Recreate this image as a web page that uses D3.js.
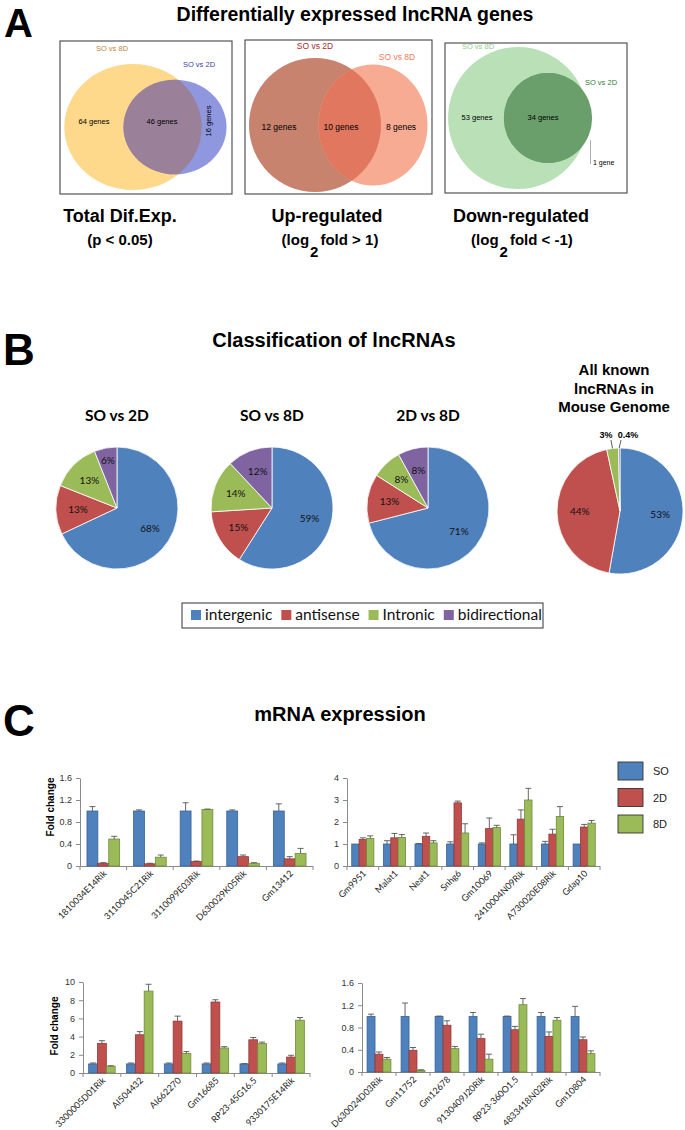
<!DOCTYPE html>
<html><head><meta charset="utf-8">
<script src="https://cdn.jsdelivr.net/npm/d3@7"></script>
<style>body{margin:0;background:#fff}svg{display:block}</style>
</head><body>
<svg id="c" width="685" height="1130"></svg>
<script>
// ---------------- DATA ----------------
const titleA = "Differentially expressed lncRNA genes";
const titleB = "Classification of lncRNAs";
const titleC = "mRNA expression";

const vennSetNames1 = ["SO vs 8D", "SO vs 2D"];
const vennSetSizes1 = [110, 62];
const vennRegions1 = ["64 genes", "46 genes", "16 genes"];
const vennSetNames2 = ["SO vs 2D", "SO vs 8D"];
const vennSetSizes2 = [22, 18];
const vennRegions2 = ["12 genes", "10 genes", "8 genes"];
const vennSetNames3 = ["SO vs 8D", "SO vs 2D"];
const vennSetSizes3 = [87, 35];
const vennRegions3 = ["53 genes", "34 genes", "1 gene"];
const vennCaptions = ["Total Dif.Exp.", "Up-regulated", "Down-regulated"];

const pieCategories = ["intergenic", "antisense", "Intronic", "bidirectional"];
const pieTitles = ["SO vs 2D", "SO vs 8D", "2D vs 8D"];
const pieSO2D = [68, 13, 13, 6];
const pieSO8D = [59, 15, 14, 12];
const pie2D8D = [71, 13, 8, 8];
const pieGenome = [53, 44, 3, 0.4];
const pieGenomeLabels = ["53%", "44%", "3%", "0.4%"];
const pieGenomeTitle = ["All known", "lncRNAs in", "Mouse Genome"];

const seriesNames = ["SO", "2D", "8D"];

const genes1 = ["1810034E14Rik", "3110045C21Rik", "3110099E03Rik", "D630029K05Rik", "Gm13412"];
const so1 = [1, 1, 1, 1, 1];
const d2_1 = [0.05, 0.04, 0.08, 0.17, 0.13];
const d8_1 = [0.49, 0.16, 1.03, 0.05, 0.23];
const eSo1 = [0.08, 0.02, 0.15, 0.02, 0.13];
const eD2_1 = [0.01, 0.01, 0.01, 0.03, 0.04];
const eD8_1 = [0.05, 0.04, 0.005, 0.01, 0.09];
const ticks1 = [0, 0.4, 0.8, 1.2, 1.6];

const genes2 = ["Gm9951", "Malat1", "Neat1", "Snhg6", "Gm10069", "2410004N09Rik", "A730020E08Rik", "Gdap10"];
const so2 = [1, 1, 1, 1, 1, 1, 1, 1];
const d2_2 = [1.2, 1.28, 1.35, 2.87, 1.7, 2.13, 1.45, 1.77];
const d8_2 = [1.25, 1.3, 1.05, 1.5, 1.75, 3.0, 2.25, 1.95];
const eSo2 = [0, 0.15, 0.02, 0.1, 0.05, 0.42, 0.12, 0];
const eD2_2 = [0.08, 0.2, 0.15, 0.08, 0.48, 0.42, 0.22, 0.12];
const eD8_2 = [0.12, 0.13, 0.1, 0.42, 0.1, 0.53, 0.45, 0.12];
const ticks2 = [0, 1, 2, 3, 4];

const genes3 = ["3300005D01Rik", "AI504432", "AI662270", "Gm16685", "RP23-45G16.5", "9330175E14Rik"];
const so3 = [1, 1, 1, 1, 1, 1];
const d2_3 = [3.25, 4.2, 5.7, 7.8, 3.65, 1.75];
const d8_3 = [0.75, 9.0, 2.15, 2.75, 3.25, 5.8];
const eSo3 = [0.1, 0.1, 0.1, 0.1, 0.03, 0.1];
const eD2_3 = [0.3, 0.35, 0.55, 0.25, 0.25, 0.2];
const eD8_3 = [0.05, 0.75, 0.2, 0.15, 0.15, 0.3];
const ticks3 = [0, 2, 4, 6, 8, 10];

const genes4 = ["D630024D03Rik", "Gm11752", "Gm12678", "9130409J20Rik", "RP23-360O1.5", "4833418N02Rik", "Gm10804"];
const so4 = [1, 1, 1, 1, 1, 1, 1];
const d2_4 = [0.32, 0.39, 0.84, 0.6, 0.76, 0.64, 0.58];
const d8_4 = [0.23, 0.03, 0.42, 0.23, 1.21, 0.93, 0.33];
const eSo4 = [0.04, 0.24, 0.005, 0.07, 0.005, 0.07, 0.18];
const eD2_4 = [0.04, 0.05, 0.08, 0.08, 0.06, 0.08, 0.05];
const eD8_4 = [0.03, 0.01, 0.04, 0.09, 0.11, 0.05, 0.05];
const ticks4 = [0, 0.4, 0.8, 1.2, 1.6];

// ---------------- STYLE ----------------
const ARIAL = "'Liberation Sans', Arial, sans-serif";
const CAL = "Lato, 'Open Sans', sans-serif";
const pieColors = ["#4f81bd", "#c0504d", "#9bbb59", "#8064a2"];
const barFill = ["#4f81bd", "#c0504d", "#9bbb59"];
const barStroke = ["#3a6296", "#8e3a38", "#6f8a3c"];

const svg = d3.select("#c");

function txt(x, y, s, size, opts = {}) {
  return svg.append("text").attr("x", x).attr("y", y).text(s)
    .attr("font-family", opts.family || ARIAL).attr("font-size", size)
    .attr("font-weight", opts.weight || "normal")
    .attr("text-anchor", opts.anchor || "start")
    .attr("fill", opts.fill || "#000");
}

// ---------------- PANEL A ----------------
txt(4, 37, "A", 40, {weight: "bold"});
txt(355, 21, titleA, 19.5, {weight: "bold", anchor: "middle"});

function venn(cfg) {
  const g = svg.append("g");
  const r = d3.scaleSqrt().domain([0, d3.max(cfg.sizes)]).range([0, cfg.rmax]);
  const ells = cfg.sizes.map((s, i) => ({cx: cfg.cx[i], cy: cfg.cy, ry: r(s), rx: r(s) * cfg.aspect[i]}));
  const id = "clip" + cfg.id;
  g.append("clipPath").attr("id", id).append("ellipse")
    .attr("cx", ells[0].cx).attr("cy", ells[0].cy).attr("rx", ells[0].rx).attr("ry", ells[0].ry);
  g.selectAll("ellipse.s").data(ells).join("ellipse").attr("class", "s")
    .attr("cx", d => d.cx).attr("cy", d => d.cy).attr("rx", d => d.rx).attr("ry", d => d.ry)
    .attr("fill", (d, i) => cfg.colors[i]);
  g.append("ellipse").attr("clip-path", `url(#${id})`)
    .attr("cx", ells[1].cx).attr("cy", ells[1].cy).attr("rx", ells[1].rx).attr("ry", ells[1].ry)
    .attr("fill", cfg.overlap);
  g.append("rect").attr("x", cfg.box[0]).attr("y", cfg.box[1]).attr("width", cfg.box[2] - cfg.box[0])
    .attr("height", cfg.box[3] - cfg.box[1]).attr("fill", "none").attr("stroke", "#444").attr("stroke-width", 1.1);
  cfg.names.forEach((n, i) => txt(cfg.namePos[i][0], cfg.namePos[i][1], n, cfg.fs, {anchor: "middle", fill: cfg.nameColors[i]}));
  return g;
}

venn({id: 1, box: [60, 41, 232, 194], sizes: vennSetSizes1, rmax: 63, aspect: [1.09, 1.09],
  cx: [133, 175], cy: 127, colors: ["#fed98b", "#8f97de"], overlap: "#9a8199",
  names: vennSetNames1, namePos: [[112, 51], [199, 67]], nameColors: ["#c08442", "#3a3fa6"], fs: 7.5});
txt(94, 124, vennRegions1[0], 7.5, {anchor: "middle"});
txt(162, 124, vennRegions1[1], 7.5, {anchor: "middle"});
txt(0, 0, vennRegions1[2], 7.5, {anchor: "middle"}).attr("transform", "translate(211,121) rotate(-90)");

venn({id: 2, box: [245, 40, 432, 194], sizes: vennSetSizes2, rmax: 67, aspect: [0.985, 0.9],
  cx: [315, 373], cy: 125, colors: ["#c8836f", "#f7ab93"], overlap: "#e0775e",
  names: vennSetNames2, namePos: [[315, 49], [397, 60]], nameColors: ["#a52a2a", "#f27b5b"], fs: 8.5});
txt(279, 130, vennRegions2[0], 8.5, {anchor: "middle"});
txt(341, 130, vennRegions2[1], 8.5, {anchor: "middle"});
txt(401, 130, vennRegions2[2], 8.5, {anchor: "middle"});

venn({id: 3, box: [445, 43, 627, 193], sizes: vennSetSizes3, rmax: 71, aspect: [0.985, 0.98],
  cx: [518, 548], cy: 118, colors: ["#b9e0b6", "#6a9e6a"], overlap: "#6a9e6a",
  names: vennSetNames3, namePos: [[478, 49], [601, 85]], nameColors: ["#8fd08a", "#2f7d3e"], fs: 7.5});
txt(477, 120, vennRegions3[0], 7.5, {anchor: "middle"});
txt(543, 120, vennRegions3[1], 7.5, {anchor: "middle"});
svg.append("line").attr("x1", 590.5).attr("x2", 590.5).attr("y1", 140).attr("y2", 164).attr("stroke", "#999").attr("stroke-width", 0.8);
txt(593, 165, vennRegions3[2], 7, {});

const capX = [120, 327, 521];
vennCaptions.forEach((c, i) => txt(capX[i], 222, c, 18, {weight: "bold", anchor: "middle"}));
txt(capX[0], 245, "(p < 0.05)", 15, {weight: "bold", anchor: "middle"});
function logCap(x, rest) {
  const t = txt(x, 245, "", 15, {weight: "bold", anchor: "middle"});
  t.append("tspan").text("(log");
  t.append("tspan").attr("dy", 12).attr("dx", 1).text("2");
  t.append("tspan").attr("dy", -12).attr("dx", 2).text(rest);
}
logCap(330, "fold > 1)");
logCap(522, "fold < -1)");

// ---------------- PANEL B ----------------
txt(3, 365, "B", 44, {weight: "bold"});
txt(334, 347, titleB, 20, {weight: "bold", anchor: "middle"});

const pieGen = d3.pie().sort(null).value(d => d);
function drawPie(vals, labels, cx, cy, r, outsideIdx) {
  const g = svg.append("g").attr("transform", `translate(${cx},${cy})`);
  const arcs = pieGen(vals);
  const arc = d3.arc().innerRadius(0).outerRadius(r);
  g.selectAll("path").data(arcs).join("path").attr("d", arc)
    .attr("fill", (d, i) => pieColors[i]).attr("stroke", "#fff").attr("stroke-width", 0.8);
  arcs.forEach((a, i) => {
    if (outsideIdx && outsideIdx.includes(i)) return;
    const span = a.endAngle - a.startAngle;
    const lr = span < 0.5 ? r * 0.8 : r * 0.64;
    const c = d3.arc().innerRadius(lr).outerRadius(lr).centroid(a);
    g.append("text").attr("x", c[0]).attr("y", c[1] + 3.5).text(labels[i])
      .attr("font-family", CAL).attr("font-size", 10).attr("text-anchor", "middle").attr("fill", "#111");
  });
  return {g, arcs};
}
const pieCX = [117, 272, 428];
[pieSO2D, pieSO8D, pie2D8D].forEach((vals, i) => {
  txt(pieCX[i], 421, pieTitles[i], 15.5, {family: CAL, weight: "bold", anchor: "middle"});
  drawPie(vals, vals.map(v => v + "%"), pieCX[i], 508, 61);
});
pieGenomeTitle.forEach((s, i) => txt(614, 375 + i * 18.5, s, 15, {weight: "bold", anchor: "middle"}));
const gp = drawPie(pieGenome, pieGenomeLabels, 620, 511, 63, [2, 3]);
[2, 3].forEach((i, k) => {
  const a = gp.arcs[i];
  const m = (a.startAngle + a.endAngle) / 2;
  const px = Math.sin(m) * 63, py = -Math.cos(m) * 63;
  const lx = k === 0 ? -12 : 1;
  gp.g.append("line").attr("x1", px).attr("y1", py).attr("x2", lx + (k === 0 ? 3 : 0)).attr("y2", -71)
    .attr("stroke", "#333").attr("stroke-width", 0.8);
  gp.g.append("text").attr("x", k === 0 ? -14 : 8).attr("y", -73).text(pieGenomeLabels[i])
    .attr("font-family", ARIAL).attr("font-size", 9).attr("font-weight", "bold").attr("text-anchor", "middle");
});

// legend
const lg = svg.append("g");
lg.append("rect").attr("x", 182).attr("y", 603).attr("width", 361).attr("height", 25)
  .attr("fill", "#fff").attr("stroke", "#333").attr("stroke-width", 1);
let lx = 191;
pieCategories.forEach((c, i) => {
  lg.append("rect").attr("x", lx).attr("y", 610).attr("width", 10).attr("height", 10).attr("fill", pieColors[i]);
  const t = lg.append("text").attr("x", lx + 14).attr("y", 620).text(c)
    .attr("font-family", CAL).attr("font-size", 15.5).attr("fill", "#111");
  lx += 14 + t.node().getComputedTextLength() + 9;
});

// ---------------- PANEL C ----------------
txt(3, 736, "C", 44, {weight: "bold"});
txt(340, 721, titleC, 20, {weight: "bold", anchor: "middle"});

function barChart(o) {
  const g = svg.append("g");
  const x = d3.scaleBand().domain(o.cats).range([o.x0, o.x1]);
  const y = d3.scaleLinear().domain([0, d3.max(o.ticks)]).range([o.y0, o.yTop]);
  const inner = d3.scaleBand().domain(seriesNames).range([0, x.bandwidth()]).paddingOuter(0.64);
  const ya = g.append("g").attr("transform", `translate(${o.x0},0)`)
    .call(d3.axisLeft(y).tickValues(o.ticks).tickSize(4).tickSizeOuter(0).tickPadding(4).tickFormat(o.fmt));
  ya.select(".domain").attr("stroke", "#8a8a8a");
  ya.selectAll(".tick line").attr("stroke", "#8a8a8a");
  ya.selectAll(".tick text").attr("font-family", ARIAL).attr("font-size", 9).attr("fill", "#333");
  // x axis
  g.append("line").attr("x1", o.x0).attr("x2", o.x1).attr("y1", o.y0 + 0.5).attr("y2", o.y0 + 0.5).attr("stroke", "#8a8a8a");
  const bounds = o.cats.map(c => x(c)).concat([o.x1]);
  g.selectAll("line.xt").data(bounds).join("line").attr("class", "xt")
    .attr("x1", d => d).attr("x2", d => d).attr("y1", o.y0).attr("y2", o.y0 + 4).attr("stroke", "#8a8a8a");
  o.series.forEach((vals, si) => {
    const s = seriesNames[si];
    g.selectAll(null).data(vals).join("rect")
      .attr("x", (d, i) => x(o.cats[i]) + inner(s)).attr("y", d => y(d))
      .attr("width", inner.bandwidth()).attr("height", d => o.y0 - y(d))
      .attr("fill", barFill[si]).attr("stroke", barStroke[si]).attr("stroke-width", 0.8);
    const errs = o.errs[si];
    vals.forEach((v, i) => {
      if (!errs[i]) return;
      const cxp = x(o.cats[i]) + inner(s) + inner.bandwidth() / 2;
      g.append("line").attr("x1", cxp).attr("x2", cxp).attr("y1", y(v)).attr("y2", y(v + errs[i])).attr("stroke", "#555").attr("stroke-width", 0.9);
      g.append("line").attr("x1", cxp - 3).attr("x2", cxp + 3).attr("y1", y(v + errs[i])).attr("y2", y(v + errs[i])).attr("stroke", "#555").attr("stroke-width", 0.9);
    });
  });
  o.cats.forEach(c => {
    const px = x(c) + x.bandwidth() / 2 + 4, py = o.y0 + 8;
    g.append("text").attr("transform", `translate(${px},${py}) rotate(-45)`).text(c)
      .attr("font-family", CAL).attr("font-size", 9).attr("text-anchor", "end").attr("fill", "#222");
  });
  if (o.ylab) {
    g.append("text").attr("transform", `translate(${o.ylab[0]},${o.ylab[1]}) rotate(-90)`).text("Fold change")
      .attr("font-family", ARIAL).attr("font-size", 10).attr("font-weight", "bold").attr("text-anchor", "middle");
  }
}
const fmtDec = d => d === 0 ? "0" : d.toFixed(1);
barChart({cats: genes1, series: [so1, d2_1, d8_1], errs: [eSo1, eD2_1, eD8_1], ticks: ticks1, fmt: fmtDec,
  x0: 80, x1: 313, y0: 866, yTop: 778, ylab: [54, 807]});
barChart({cats: genes2, series: [so2, d2_2, d8_2], errs: [eSo2, eD2_2, eD8_2], ticks: ticks2, fmt: d3.format("d"),
  x0: 347, x1: 600, y0: 866, yTop: 778});
barChart({cats: genes3, series: [so3, d2_3, d8_3], errs: [eSo3, eD2_3, eD8_3], ticks: ticks3, fmt: d3.format("d"),
  x0: 83, x1: 310, y0: 1073, yTop: 982, ylab: [58, 1026]});
barChart({cats: genes4, series: [so4, d2_4, d8_4], errs: [eSo4, eD2_4, eD8_4], ticks: ticks4, fmt: fmtDec,
  x0: 362, x1: 600, y0: 1072, yTop: 983});

// series legend
seriesNames.forEach((s, i) => {
  svg.append("rect").attr("x", 618).attr("y", 762 + i * 26.5).attr("width", 25).attr("height", 18)
    .attr("fill", barFill[i]).attr("stroke", "#333").attr("stroke-width", 0.9);
  txt(653, 775 + i * 26.5, s, 11, {fill: "#222"});
});
</script>
</body></html>
